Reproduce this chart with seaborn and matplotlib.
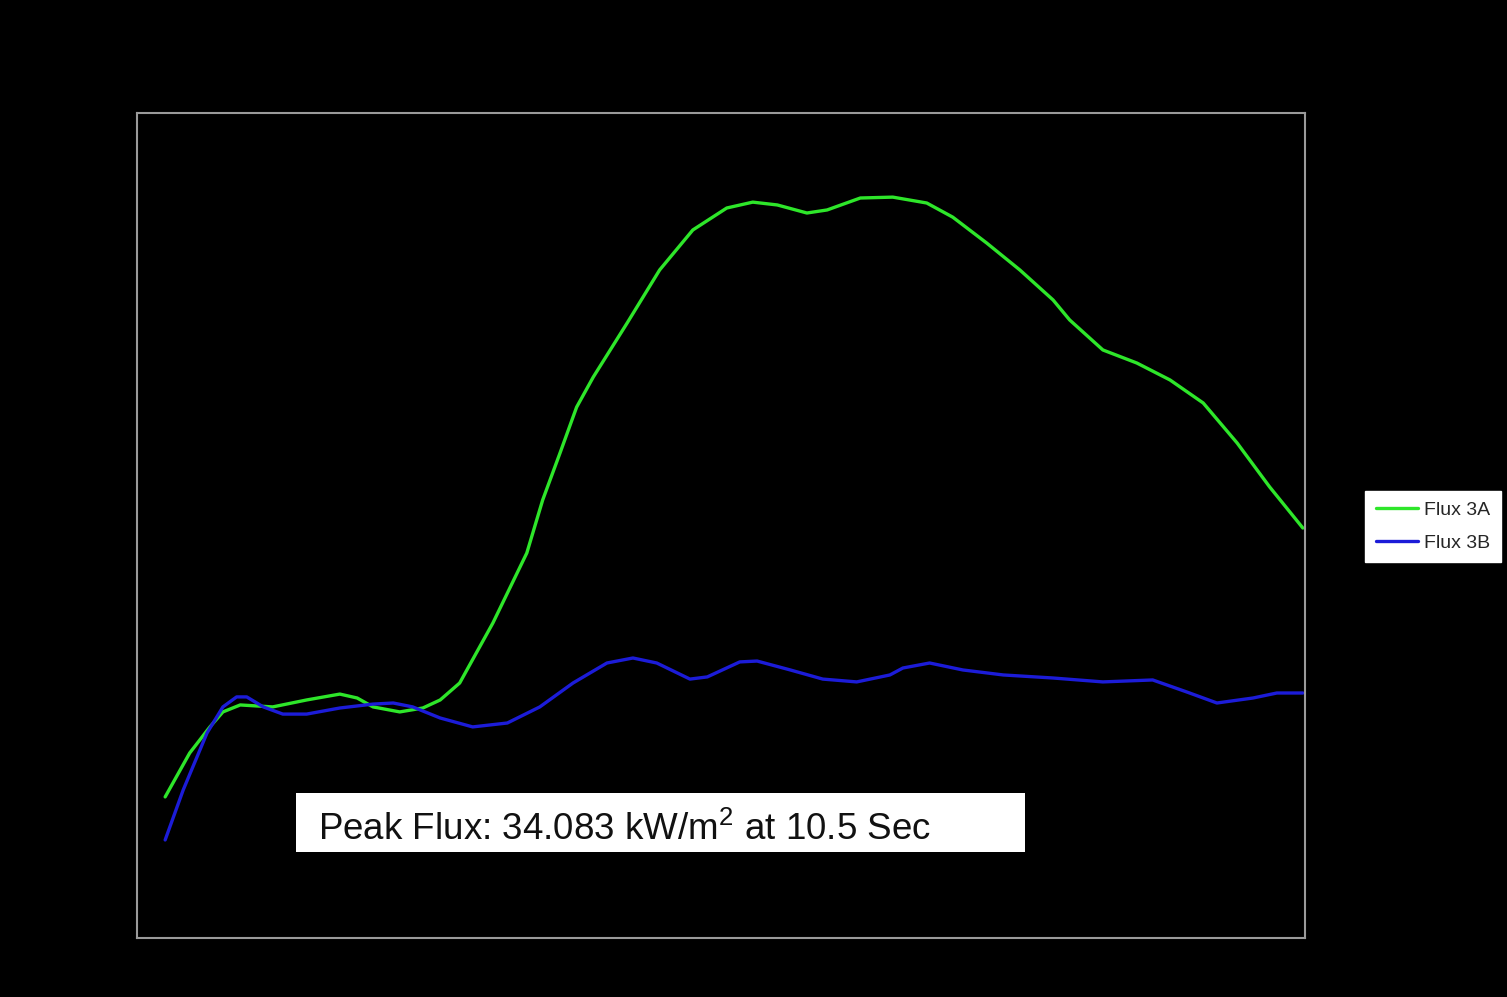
import matplotlib
matplotlib.use("Agg")
import matplotlib.pyplot as plt
import seaborn as sns
import pandas as pd
from matplotlib.patches import Rectangle

# Flux 3A (green) - time (s) and heat flux (kW/m^2)
t_3a = [0.39, 0.73, 1.01, 1.19, 1.43, 1.88, 2.35, 2.81, 3.05, 3.27, 3.64, 3.96, 4.20,
        4.47, 4.93, 5.40, 5.62, 5.86, 6.09, 6.32, 6.79, 7.24, 7.70, 8.17, 8.53, 8.87,
        9.28, 9.56, 10.02, 10.47, 10.94, 11.30, 11.77, 12.23, 12.69, 12.92, 13.38,
        13.85, 14.31, 14.77, 15.24, 15.69, 16.15]
flux_3a = [6.49, 8.51, 9.71, 10.40, 10.72, 10.63, 10.95, 11.22, 11.04, 10.63, 10.40,
           10.58, 10.95, 11.73, 14.49, 17.71, 20.15, 22.31, 24.42, 25.80, 28.29, 30.73,
           32.57, 33.58, 33.85, 33.72, 33.35, 33.49, 34.04, 34.08, 33.81, 33.16, 31.97,
           30.73, 29.35, 28.43, 27.05, 26.45, 25.67, 24.61, 22.77, 20.75, 18.86]

# Flux 3B (blue)
t_3b = [0.39, 0.64, 0.97, 1.19, 1.38, 1.52, 1.75, 2.02, 2.35, 2.81, 3.27, 3.55, 3.82,
        4.20, 4.65, 5.13, 5.58, 6.04, 6.51, 6.87, 7.20, 7.66, 7.90, 8.35, 8.59, 9.05,
        9.50, 9.97, 10.43, 10.61, 10.98, 11.44, 12.00, 12.69, 13.38, 14.07, 14.54,
        14.96, 15.46, 15.79, 16.15]
flux_3b = [4.51, 6.81, 9.43, 10.63, 11.09, 11.09, 10.63, 10.30, 10.30, 10.58, 10.76,
           10.81, 10.63, 10.12, 9.71, 9.89, 10.63, 11.73, 12.65, 12.88, 12.65, 11.91,
           12.01, 12.70, 12.74, 12.33, 11.91, 11.78, 12.10, 12.42, 12.65, 12.33, 12.10,
           11.96, 11.78, 11.87, 11.32, 10.81, 11.04, 11.27, 11.27]

series_names = ["Flux 3A", "Flux 3B"]
annotation = "Peak Flux: 34.083 kW/m$^2$ at 10.5 Sec"

df = pd.concat([
    pd.DataFrame({"Time": t_3a, "Flux": flux_3a, "Series": series_names[0]}),
    pd.DataFrame({"Time": t_3b, "Flux": flux_3b, "Series": series_names[1]}),
])

sns.set_style("dark")
plt.rcParams["font.family"] = ["Liberation Sans", "DejaVu Sans"]
plt.rcParams["mathtext.fontset"] = "custom"
plt.rcParams["mathtext.rm"] = "Liberation Sans"

fig = plt.figure(figsize=(15.07, 9.97), dpi=100, facecolor="black")
ax = fig.add_axes([137/1507, 1 - 938/997, (1305 - 137)/1507, (938 - 113)/997])
ax.set_facecolor("black")

sns.lineplot(data=df, x="Time", y="Flux", hue="Series", sort=False,
             palette={"Flux 3A": "#2ee62a", "Flux 3B": "#1c1cd8"},
             linewidth=2.4, ax=ax, legend=True)

ax.set_xlim(0, 16.18)
ax.set_ylim(0, 37.95)
ax.set_xticks([])
ax.set_yticks([])
ax.set_xlabel("")
ax.set_ylabel("")
ax.grid(False)
for s in ax.spines.values():
    s.set_visible(True)
    s.set_color("#9a9a9a")
    s.set_linewidth(1.5)

# annotation box
ax.add_patch(Rectangle(((296 - 137)/1168, (938 - 852)/825), (1025 - 296)/1168, 59/825,
                       transform=ax.transAxes, facecolor="white", edgecolor="none", zorder=5))
ax.text((318 - 137)/1168, (938 - 840)/825, annotation, transform=ax.transAxes,
        fontsize=26.5, color="#111111", va="baseline", ha="left", zorder=6)

handles, labels = ax.get_legend_handles_labels()
ax.legend(handles, labels, loc="upper left", bbox_to_anchor=(1365/1507, 1 - 491/997),
          bbox_transform=fig.transFigure, frameon=True, facecolor="white",
          edgecolor="white", fancybox=False, framealpha=1, fontsize=14,
          handlelength=2.15, handletextpad=0.35, borderpad=0.55, labelspacing=0.75,
          borderaxespad=0)

fig.savefig("out.png", dpi=100, facecolor="black")
